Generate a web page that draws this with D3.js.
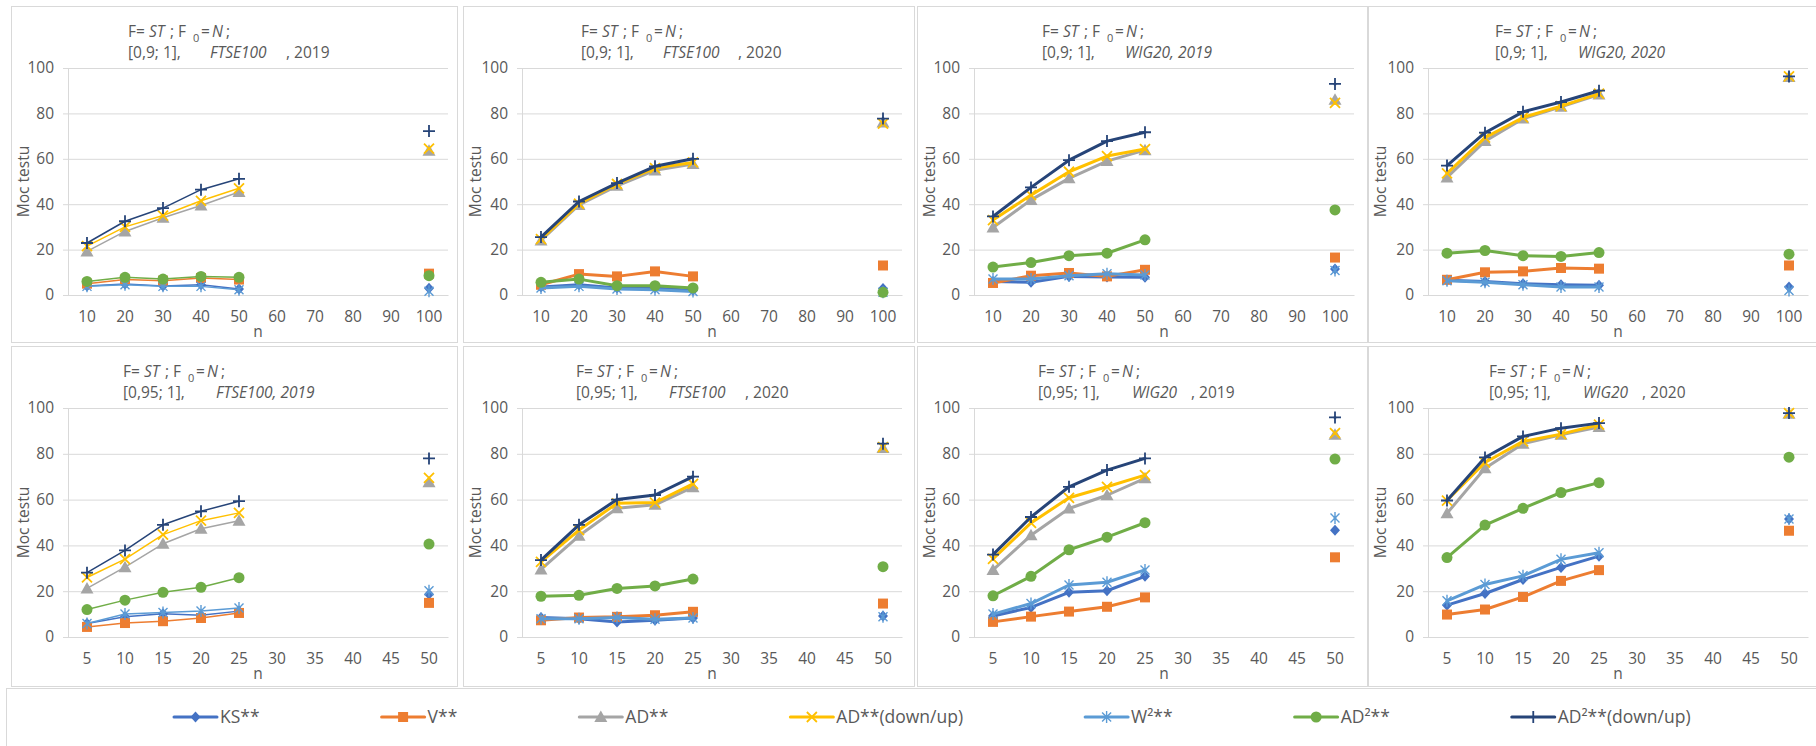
<html lang="pl">
<head>
<meta charset="UTF-8">
<title>Moc testu</title>
<script src="https://cdn.jsdelivr.net/npm/d3@7"></script>
<style>
  body { margin: 0; background: #fff; }
  text { font-family: "Open Sans", sans-serif; fill: #595959; }
</style>
</head>
<body>
<svg width="1816" height="746"></svg>
<script>
// kategorie osi x
const nTop = ["10","20","30","40","50","60","70","80","90","100"];
const nBottom = ["5","10","15","20","25","30","35","40","45","50"];
// n, dla ktorych sa wyniki
const nTopUsed = ["10","20","30","40","50","100"];
const nBottomUsed = ["5","10","15","20","25","50"];

const seriesNames = ["KS**","V**","AD**","AD**(down/up)","W²**","AD²**","AD²**(down/up)"];
const yTicks = [0, 20, 40, 60, 80, 100];

// wiersze: KS, V, AD, AD(down/up), W2, AD2, AD2(down/up)
const ftse2019_90 = [
  [4, 4.8, 4, 4.5, 2.6, 3],
  [5, 6.8, 6.3, 7.5, 6.8, 9.4],
  [19.2, 28, 34, 39.4, 45.4, 63.5],
  [21.5, 30, 35, 41.5, 47, 64.5],
  [3.8, 4.5, 3.8, 3.8, 2.3, 1.6],
  [6, 7.8, 7, 8.2, 7.8, 8.5],
  [22.9, 32.5, 38.3, 46.4, 51.2, 72.2]
];
const ftse2020_90 = [
  [3.5, 4.5, 3.1, 3.1, 2, 2.9],
  [4.5, 9.2, 8.2, 10.4, 8.2, 13],
  [24, 39.7, 48.1, 54.9, 57.7, 76],
  [24.6, 40.2, 48.9, 55.9, 58.4, 75.5],
  [3.1, 3.8, 2.6, 2.3, 1.5, 1.2],
  [5.6, 7, 4.1, 4.1, 3.1, 1.2],
  [25.5, 41.2, 49.3, 56.7, 60, 77.7]
];
const wig2019_90 = [
  [6, 5.6, 8.2, 7.9, 7.8, 11.4],
  [5.3, 8.5, 9.7, 8.2, 11.1, 16.5],
  [29.7, 41.9, 51.4, 59, 63.8, 86],
  [33, 44, 54.3, 61.2, 64.3, 84.6],
  [7, 7, 8.5, 9.4, 8.8, 10.8],
  [12.3, 14.3, 17.3, 18.4, 24.3, 37.5],
  [34.6, 47.4, 59.4, 67.8, 71.7, 93]
];
const wig2020_90 = [
  [6.5, 6, 5, 4.5, 4.3, 3.5],
  [6.7, 10, 10.4, 11.9, 11.6, 13],
  [51.8, 67.8, 77.7, 82.9, 88.3, 96],
  [53.6, 69.3, 78.2, 83.2, 88.7, 96.3],
  [6.3, 5.6, 4.5, 3.5, 3.5, 2],
  [18.4, 19.6, 17.3, 17, 18.7, 18],
  [57, 71.5, 80.7, 85, 90, 96.3]
];
const ftse2019_95 = [
  [5.9, 8.8, 10.2, 9.5, 11.3, 18.7],
  [4.4, 6.1, 6.9, 8.3, 10.5, 14.9],
  [21.2, 30.5, 40.7, 47.3, 50.8, 67.6],
  [26, 34, 44.7, 50.8, 54.2, 69.5],
  [5.9, 10, 10.7, 11.4, 12.7, 20.2],
  [12, 16.1, 19.5, 21.7, 25.9, 40.6],
  [28.1, 37.8, 49, 54.9, 59.3, 78]
];
const ftse2020_95 = [
  [8.5, 8, 6.6, 7.3, 8.3, 9.2],
  [7.3, 8.5, 8.8, 9.5, 11, 14.6],
  [29.5, 44.2, 56.2, 57.7, 65.4, 82.5],
  [32.8, 46.7, 58.4, 58.7, 66.9, 82.9],
  [8, 8, 8.5, 7.7, 8.3, 8.8],
  [17.8, 18.2, 21.2, 22.3, 25.3, 30.7],
  [33.6, 49, 60, 62, 70, 84.4]
];
const wig2019_95 = [
  [9.2, 12.9, 19.5, 20.2, 26.5, 46.6],
  [6.6, 8.9, 11.1, 13.2, 17.3, 34.8],
  [29.3, 44.4, 56.1, 61.9, 69.3, 88.3],
  [34.1, 49.8, 60.8, 65.6, 70.7, 89],
  [10, 14.6, 22.7, 23.9, 29.3, 52],
  [18, 26.5, 38.1, 43.6, 49.9, 77.7],
  [36, 52.4, 65.6, 72.9, 78, 95.9]
];
const wig2020_95 = [
  [13.9, 19, 25.1, 30.4, 35.3, 51.5],
  [9.8, 12, 17.5, 24.5, 29.2, 46.4],
  [54, 73.7, 84.4, 88.3, 91.7, 97.5],
  [59.6, 76.2, 85.4, 88.6, 92.7, 97.8],
  [15.8, 22.9, 26.7, 33.9, 36.8, 51.5],
  [34.7, 48.9, 56.2, 63.1, 67.4, 78.5],
  [59.6, 78.4, 87.6, 91.2, 93.4, 97.8]
];

// tytuly: [tekst, kursywa]
const titleLine2 = [
  [["[0,9; 1],", 0], ["FTSE100", 1], [", 2019", 0]],
  [["[0,9; 1],", 0], ["FTSE100", 1], [", 2020", 0]],
  [["[0,9; 1],", 0], ["WIG20, 2019", 1]],
  [["[0,9; 1],", 0], ["WIG20, 2020", 1]],
  [["[0,95; 1],", 0], ["FTSE100, 2019", 1]],
  [["[0,95; 1],", 0], ["FTSE100", 1], [", 2020", 0]],
  [["[0,95; 1],", 0], ["WIG20", 1], [", 2019", 0]],
  [["[0,95; 1],", 0], ["WIG20", 1], [", 2020", 0]]
];

const panelData = [ftse2019_90, ftse2020_90, wig2019_90, wig2020_90,
                   ftse2019_95, ftse2020_95, wig2019_95, wig2020_95];

// wyglad
const colors = ["#4472C4","#ED7D31","#A5A5A5","#FFC000","#5B9BD5","#70AD47","#264478"];
const markers = ["diamond","square","triangle","x","asterisk","circle","plus"];
const lineW = [1.5, 3, 3, 3, 1.5, 3, 3, 3];
const boxX = [11, 463, 917, 1368], boxW = [446, 451, 450, 448];
const boxY = [6, 346], boxH = [336, 340];
const plotX = [68, 522, 974, 1428], plotW = 380;
const plotTop = [68, 408], plotBottom = [295, 637];
const titleDx = [60, 59, 68, 67, 55, 54, 64, 61];
const line2Dx = [[0, 82, 158], [0, 82, 157], [0, 83], [0, 83], [0, 93], [0, 93, 169], [0, 94, 153], [0, 94, 153]];

const svg = d3.select("svg");

function drawMarker(g, type, color, x, y) {
  const s = 5;
  if (type === "diamond") {
    g.append("path").attr("d", `M${x},${y - 5.5}L${x + 5},${y}L${x},${y + 5.5}L${x - 5},${y}Z`).attr("fill", color);
  } else if (type === "square") {
    g.append("rect").attr("x", x - 5).attr("y", y - 5).attr("width", 10).attr("height", 10).attr("fill", color);
  } else if (type === "triangle") {
    g.append("path").attr("d", `M${x},${y - 6.5}L${x + 6.5},${y + 5}L${x - 6.5},${y + 5}Z`).attr("fill", color);
  } else if (type === "circle") {
    g.append("circle").attr("cx", x).attr("cy", y).attr("r", 5.5).attr("fill", color);
  } else if (type === "x") {
    g.append("path").attr("d", `M${x - s},${y - s}L${x + s},${y + s}M${x - s},${y + s}L${x + s},${y - s}`)
      .attr("stroke", color).attr("stroke-width", 1.8).attr("fill", "none");
  } else if (type === "asterisk") {
    g.append("path").attr("d", `M${x - 4.5},${y - 4.5}L${x + 4.5},${y + 4.5}M${x - 4.5},${y + 4.5}L${x + 4.5},${y - 4.5}M${x},${y - 6}L${x},${y + 6}`)
      .attr("stroke", color).attr("stroke-width", 1.4).attr("fill", "none");
  } else if (type === "plus") {
    g.append("path").attr("d", `M${x - 6},${y}L${x + 6},${y}M${x},${y - 6}L${x},${y + 6}`)
      .attr("stroke", color).attr("stroke-width", 1.8).attr("fill", "none");
  }
}

panelData.forEach((rows, i) => {
  const col = i % 4, row = Math.floor(i / 4);
  const cats = row === 0 ? nTop : nBottom;
  const used = row === 0 ? nTopUsed : nBottomUsed;

  svg.append("rect")
    .attr("x", boxX[col] + 0.5).attr("y", boxY[row] + 0.5)
    .attr("width", boxW[col]).attr("height", boxH[row])
    .attr("fill", "#fff").attr("stroke", "#d9d9d9");

  const x = d3.scaleBand().domain(cats).range([plotX[col], plotX[col] + plotW]);
  const y = d3.scaleLinear().domain([0, 100]).range([plotBottom[row], plotTop[row]]);

  // siatka
  const grid = svg.append("g")
    .attr("transform", `translate(${plotX[col]},0)`)
    .call(d3.axisLeft(y).tickValues(yTicks).tickSize(-plotW).tickFormat(""));
  grid.select(".domain").remove();
  grid.selectAll("line").attr("x1", -5).attr("stroke", "#d9d9d9");

  const yAx = svg.append("g")
    .attr("transform", `translate(${plotX[col]},0)`)
    .call(d3.axisLeft(y).tickValues(yTicks).tickSize(0).tickPadding(14));
  yAx.select(".domain").attr("stroke", "#d9d9d9");
  yAx.selectAll("text").style("font-size", "15.5px").attr("fill", "#595959");

  const xAx = svg.append("g")
    .attr("transform", `translate(0,${plotBottom[row]})`)
    .call(d3.axisBottom(x).tickSize(0).tickPadding(16));
  xAx.select(".domain").attr("stroke", "#d9d9d9");
  xAx.selectAll("text").style("font-size", "15.5px").attr("fill", "#595959");

  // tytuly osi
  const yMid = (plotTop[row] + plotBottom[row]) / 2;
  svg.append("text")
    .attr("transform", `translate(${boxX[col] + 18},${yMid}) rotate(-90)`)
    .attr("text-anchor", "middle").style("font-size", "15.5px").text("Moc testu");
  svg.append("text")
    .attr("x", plotX[col] + plotW / 2).attr("y", plotBottom[row] + 42)
    .attr("text-anchor", "middle").style("font-size", "15.5px").text("n");

  // tytul wykresu
  const tx = plotX[col] + titleDx[i];
  const ty = boxY[row] + 31;
  const t1 = svg.append("text").attr("y", ty).style("font-size", "15.5px");
  const parts1 = [["F=", 0, 0], ["ST", 1, 21], [";", 0, 42], ["F", 0, 50], ["=", 0, 73], ["N", 1, 84], [";", 0, 98]];
  parts1.forEach(p => {
    t1.append("tspan").attr("x", tx + p[2]).attr("y", ty)
      .style("font-style", p[1] ? "italic" : "normal").text(p[0]);
  });
  t1.append("tspan").attr("x", tx + 65).attr("y", ty + 5).style("font-size", "11px").text("0");

  const t2 = svg.append("text").attr("y", ty + 21).style("font-size", "15.5px");
  titleLine2[i].forEach((p, k) => {
    t2.append("tspan").attr("x", tx + line2Dx[i][k]).attr("y", ty + 21)
      .style("font-style", p[1] ? "italic" : "normal").text(p[0]);
  });

  // serie
  const line = d3.line()
    .defined(d => d.v != null)
    .x(d => x(d.n) + x.bandwidth() / 2)
    .y(d => y(d.v));

  rows.forEach((vals, s) => {
    const pts = cats.map(n => {
      const k = used.indexOf(n);
      return { n: n, v: k >= 0 ? vals[k] : null };
    });
    const g = svg.append("g");
    g.append("path").datum(pts)
      .attr("d", line).attr("fill", "none")
      .attr("stroke", colors[s]).attr("stroke-width", lineW[i])
      .attr("stroke-linejoin", "round").attr("stroke-linecap", "round");
    pts.filter(d => d.v != null).forEach(d => {
      drawMarker(g, markers[s], colors[s], x(d.n) + x.bandwidth() / 2, y(d.v));
    });
  });
});

// legenda
svg.append("rect")
  .attr("x", 6.5).attr("y", 688.5).attr("width", 1815).attr("height", 70)
  .attr("fill", "#fff").attr("stroke", "#d9d9d9");

let lx = 174;
const ly = 717;
seriesNames.forEach((name, s) => {
  const g = svg.append("g");
  g.append("line").attr("x1", lx).attr("x2", lx + 43).attr("y1", ly).attr("y2", ly)
    .attr("stroke", colors[s]).attr("stroke-width", 3).attr("stroke-linecap", "round");
  drawMarker(g, markers[s], colors[s], lx + 21.5, ly);
  const t = g.append("text").attr("x", lx + 46).attr("y", ly + 6)
    .style("font-size", "17.5px").text(name);
  lx = lx + 46 + t.node().getComputedTextLength() + 122;
});
</script>
</body>
</html>
